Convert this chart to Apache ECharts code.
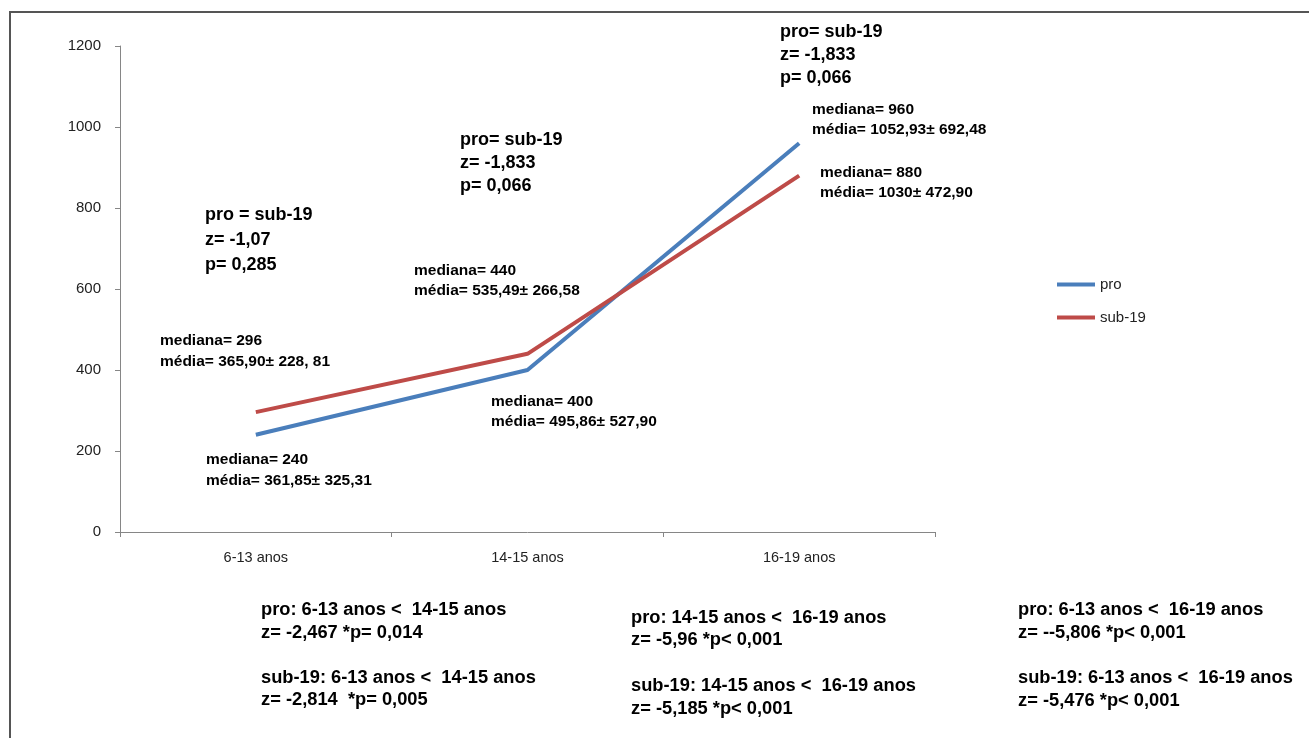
<!DOCTYPE html>
<html>
<head>
<meta charset="utf-8">
<script src="https://cdn.jsdelivr.net/npm/echarts@6/dist/echarts.min.js"></script>
<style>
html,body{margin:0;padding:0;background:#fff;}
#chart{width:1309px;height:738px;}
</style>
</head>
<body>
<div id="chart"></div>
<script>
// ---- data ----
var categories = ['6-13 anos', '14-15 anos', '16-19 anos'];
var proValues = [240, 400, 960];
var sub19Values = [296, 440, 880];
var yTicks = {min: 0, max: 1200, interval: 200};

// annotation texts (lines)
var compareNotes = [
  ['pro = sub-19', 'z= -1,07', 'p= 0,285'],
  ['pro= sub-19', 'z= -1,833', 'p= 0,066'],
  ['pro= sub-19', 'z= -1,833', 'p= 0,066']
];
var proNotes = [
  ['mediana= 240', 'média= 361,85± 325,31'],
  ['mediana= 400', 'média= 495,86± 527,90'],
  ['mediana= 960', 'média= 1052,93± 692,48']
];
var sub19Notes = [
  ['mediana= 296', 'média= 365,90± 228, 81'],
  ['mediana= 440', 'média= 535,49± 266,58'],
  ['mediana= 880', 'média= 1030± 472,90']
];
var bottomNotes = [
  ['pro: 6-13 anos <  14-15 anos', 'z= -2,467 *p= 0,014', 'sub-19: 6-13 anos <  14-15 anos', 'z= -2,814  *p= 0,005'],
  ['pro: 14-15 anos <  16-19 anos', 'z= -5,96 *p< 0,001', 'sub-19: 14-15 anos <  16-19 anos', 'z= -5,185 *p< 0,001'],
  ['pro: 6-13 anos <  16-19 anos', 'z= --5,806 *p< 0,001', 'sub-19: 6-13 anos <  16-19 anos', 'z= -5,476 *p< 0,001']
];

// ---- layout (positions of the text blocks) ----
var compareLayout = [{x: 205, y: [215, 240, 265]}, {x: 460, y: [140, 163, 186]}, {x: 780, y: [32, 55, 78]}];
var proLayout = [{x: 206, y: [460, 481]}, {x: 491, y: [402, 422]}, {x: 812, y: [110, 130]}];
var subLayout = [{x: 160, y: [341, 362]}, {x: 414, y: [271, 291]}, {x: 820, y: [173, 193]}];
var bottomLayout = [{x: 261, y: [610, 633, 678, 700]}, {x: 631, y: [618, 640, 686, 709]}, {x: 1018, y: [610, 633, 678, 701]}];

var FONT = '"Liberation Sans", Arial, sans-serif';
var graphics = [];
function addBlock(lines, layout, size) {
  lines.forEach(function (t, i) {
    graphics.push({
      type: 'text', x: layout.x, y: layout.y[i], z: 10,
      style: {text: t, fill: '#000', font: 'bold ' + size + 'px ' + FONT, textVerticalAlign: 'middle', textAlign: 'left'}
    });
  });
}
compareNotes.forEach(function (l, i) { addBlock(l, compareLayout[i], 18); });
proNotes.forEach(function (l, i) { addBlock(l, proLayout[i], 15.5); });
sub19Notes.forEach(function (l, i) { addBlock(l, subLayout[i], 15.5); });
bottomNotes.forEach(function (l, i) { addBlock(l, bottomLayout[i], 18.3); });

// frame
graphics.push({
  type: 'polyline', z: 1,
  shape: {points: [[10, 740], [10, 12], [1312, 12]]},
  style: {stroke: '#555', lineWidth: 2, fill: null}
});

var chart = echarts.init(document.getElementById('chart'), null, {renderer: 'canvas'});
chart.setOption({
  animation: false,
  backgroundColor: '#fff',
  grid: {left: 120, right: 374, top: 46, bottom: 206, containLabel: false},
  legend: {
    orient: 'vertical', left: 1052, top: 272, itemGap: 18,
    icon: 'rect', itemWidth: 38, itemHeight: 4,
    textStyle: {fontFamily: FONT, fontSize: 15, color: '#222'},
    data: ['pro', 'sub-19']
  },
  xAxis: {
    type: 'category', data: categories, boundaryGap: true,
    axisLine: {lineStyle: {color: '#868686', width: 1}},
    axisTick: {show: true, length: 5, lineStyle: {color: '#868686'}},
    axisLabel: {fontFamily: FONT, fontSize: 14.5, color: '#222', margin: 18}
  },
  yAxis: {
    type: 'value', min: yTicks.min, max: yTicks.max, interval: yTicks.interval,
    axisLine: {show: true, lineStyle: {color: '#868686', width: 1}},
    axisTick: {show: true, length: 5, lineStyle: {color: '#868686'}},
    splitLine: {show: false},
    axisLabel: {fontFamily: FONT, fontSize: 15, color: '#222', margin: 19,
      formatter: function (v) { return String(v); }}
  },
  series: [
    {name: 'pro', type: 'line', data: proValues, showSymbol: false, symbol: 'none',
     lineStyle: {color: '#4A7EBB', width: 4}, itemStyle: {color: '#4A7EBB'}},
    {name: 'sub-19', type: 'line', data: sub19Values, showSymbol: false, symbol: 'none',
     lineStyle: {color: '#BE4B48', width: 4}, itemStyle: {color: '#BE4B48'}}
  ],
  graphic: graphics
});
</script>
</body>
</html>
